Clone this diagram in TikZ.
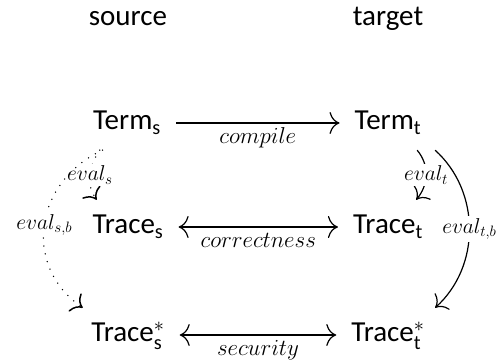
\RequirePackage{fix-cm}
\documentclass[tikz,border=0pt]{standalone}
\usepackage{amsmath}
\usepackage{fontspec}
\setsansfont{Carlito}
\usetikzlibrary{arrows.meta}

\tikzset{
  >={Computer Modern Rightarrow[length=10pt,width=22pt]},
  obj/.style={font=\sffamily\fontsize{29}{34}\selectfont,
    text height=22pt, text depth=8pt, inner xsep=15pt, inner ysep=12pt},
  head/.style={font=\sffamily\fontsize{29}{34}\selectfont, anchor=base, inner sep=0pt},
  map/.style={->, line width=1.2pt},
  dotmap/.style={->, line width=1.5pt, line cap=round, dash pattern=on 0pt off 8pt},
  under/.style={font=\fontsize{23}{28}\selectfont, anchor=base, inner sep=0pt, yshift=-21pt},
  desc/.style={font=\fontsize{21.5}{26}\selectfont, fill=white, inner sep=2pt},
}

\begin{document}
\begin{tikzpicture}[x=1pt, y=1pt]
  \useasboundingbox (0,0) rectangle (501,363);

  % column headings
  \node[head] (src) at (128,337) {source};
  \node[head] (tgt) at (388,337) {target};

  % objects
  \node[obj] (Ts) at (127,240) {Term$_{\textsf{s}}$};
  \node[obj] (Tt) at (388,240) {Term$_{\textsf{t}}$};
  \node[obj] (Rs) at (128,136) {Trace$_{\textsf{s}}$};
  \node[obj] (Rt) at (388,136) {Trace$_{\textsf{t}}$};
  \node[obj] (Ss) at (128,28)  {Trace$^{*}_{\textsf{s}}$};
  \node[obj] (St) at (388,28)  {Trace$^{*}_{\textsf{t}}$};

  % horizontal maps
  \draw[map] (Ts) -- node[under] {$compile$} (Tt);
  \draw[map, <->] (Rs) -- node[under] {$correctness$} (Rt);
  \draw[map, <->] (Ss) -- node[under] {$security$} (St);

  % source-side evaluation (dotted)
  \draw[dotmap] (Ts.225) to[out=235, in=125] node[desc] {$eval_s$} (Rs.139);
  \draw[dotmap] (Ts.228) to[out=205, in=145, looseness=1.2] node[desc] {$eval_{s,b}$} (Ss.149);

  % target-side evaluation
  \draw[map] (Tt.-43) to[out=-50, in=50] node[desc] {$eval_t$} (Rt.44);
  \draw[map] (Tt.-30) to[out=-42, in=42] node[desc] {$eval_{t,b}$} (St.30);
\end{tikzpicture}
\end{document}
